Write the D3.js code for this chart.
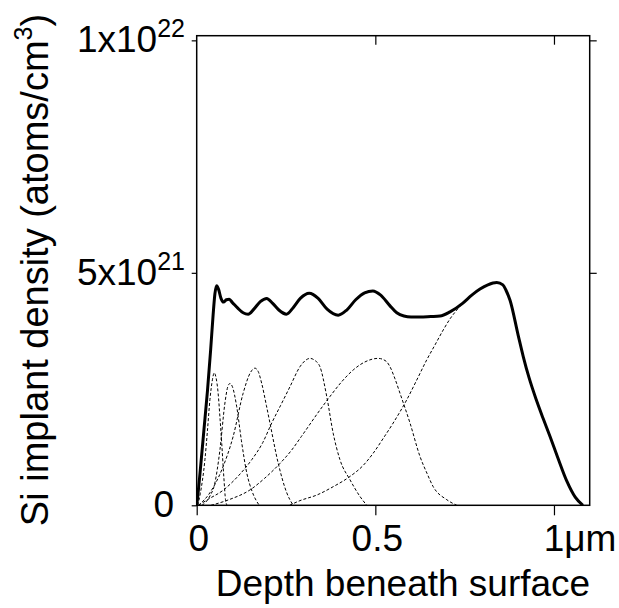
<!DOCTYPE html>
<html>
<head>
<meta charset="utf-8">
<script src="https://cdn.jsdelivr.net/npm/d3@7"></script>
<style>
  html, body { margin: 0; padding: 0; background: #fff; }
  svg { display: block; font-family: "Liberation Sans", Arial, sans-serif; }
</style>
</head>
<body>
<svg id="chart" width="619" height="608"></svg>
<script>
// depth in um, density in units of 1e21 atoms/cm^3
const xTicks = [0, 0.5, 1];
const xTickLabels = ['0', '0.5', '1\u03bcm'];
const yTicks = [0, 5, 10];
const yTickLabels = [['0', ''], ['5x10', '21'], ['1x10', '22']];

const total = [
  [0, 0], [0.003, 0.2], [0.01, 0.75], [0.02, 1.6], [0.03, 2.45], [0.039, 3.34],
  [0.046, 4.1], [0.051, 4.55], [0.056, 4.72], [0.061, 4.65], [0.068, 4.45],
  [0.075, 4.37], [0.083, 4.42], [0.091, 4.43], [0.1, 4.36], [0.115, 4.24],
  [0.13, 4.14], [0.144, 4.11], [0.16, 4.22], [0.178, 4.38], [0.196, 4.45],
  [0.212, 4.35], [0.23, 4.2], [0.251, 4.11], [0.27, 4.25], [0.29, 4.45],
  [0.315, 4.56], [0.34, 4.45], [0.365, 4.22], [0.396, 4.09], [0.42, 4.2],
  [0.445, 4.42], [0.47, 4.57], [0.493, 4.61], [0.515, 4.52], [0.54, 4.3],
  [0.56, 4.14], [0.58, 4.07], [0.6, 4.05], [0.625, 4.05], [0.655, 4.06],
  [0.681, 4.07], [0.709, 4.16], [0.745, 4.35], [0.77, 4.52], [0.793, 4.65],
  [0.815, 4.74], [0.84, 4.79], [0.857, 4.74], [0.866, 4.62], [0.877, 4.41],
  [0.9, 3.65], [0.914, 3.2], [0.93, 2.75], [0.95, 2.28], [0.97, 1.86],
  [0.989, 1.48], [1.01, 1.04], [1.036, 0.52], [1.06, 0.17], [1.081, 0]
];

const implant1 = [
  [0.003, 0], [0.01, 0.25], [0.023, 0.98], [0.03, 1.6], [0.037, 2.27], [0.044, 2.7],
  [0.049, 2.85], [0.054, 2.75], [0.06, 2.41], [0.065, 1.9], [0.07, 1.34],
  [0.076, 0.6], [0.081, 0.1], [0.085, 0]
];
const implant2 = [
  [0.015, 0], [0.037, 0.2], [0.05, 0.45], [0.065, 1.19], [0.079, 2.2], [0.087, 2.55],
  [0.093, 2.62], [0.1, 2.55], [0.112, 2.12], [0.125, 1.4], [0.14, 0.7],
  [0.155, 0.3], [0.175, 0]
];
const implant3 = [
  [0.005, 0], [0.037, 0.27], [0.07, 0.76], [0.102, 1.48], [0.13, 2.41], [0.15, 2.85],
  [0.163, 2.95], [0.172, 2.88], [0.182, 2.62], [0.195, 2.15], [0.205, 1.77],
  [0.228, 0.91], [0.252, 0.27], [0.27, 0]
];
const implant4 = [
  [0.005, 0], [0.03, 0.12], [0.075, 0.33], [0.115, 0.62], [0.154, 0.98], [0.185, 1.35],
  [0.21, 1.77], [0.235, 2.15], [0.261, 2.55], [0.289, 2.98], [0.305, 3.12],
  [0.317, 3.16], [0.33, 3.12], [0.345, 2.98], [0.364, 2.34], [0.382, 1.55],
  [0.401, 0.98], [0.429, 0.55], [0.457, 0.19], [0.476, 0]
];
const implant5 = [
  [0.04, 0], [0.09, 0.12], [0.149, 0.33], [0.19, 0.58], [0.233, 0.9], [0.265, 1.18],
  [0.293, 1.48], [0.345, 2.05], [0.373, 2.34], [0.405, 2.65], [0.438, 2.91],
  [0.47, 3.08], [0.508, 3.16], [0.53, 3.1], [0.541, 2.98], [0.555, 2.72],
  [0.569, 2.41], [0.597, 1.77], [0.625, 1.05], [0.645, 0.68], [0.662, 0.4],
  [0.7, 0.12], [0.728, 0]
];
const implant6 = [
  [0.26, 0], [0.289, 0.1], [0.336, 0.22], [0.382, 0.4], [0.429, 0.62], [0.465, 0.85],
  [0.494, 1.12], [0.523, 1.45], [0.55, 1.77], [0.588, 2.27], [0.615, 2.68],
  [0.644, 3.13], [0.667, 3.45], [0.69, 3.77], [0.71, 4.02], [0.728, 4.2], [0.745, 4.35]
];

const implants = [implant1, implant2, implant3, implant4, implant5, implant6];

(function () {
  const left = 196.7, right = 589.7, top = 35.7, bottom = 505.3;
  const fontSize = 37;
  const supSize = 25;

  const svg = d3.select('#chart');

  const x = d3.scaleLinear().domain([0, 1.1]).range([left, right]);
  const y = d3.scaleLinear().domain([0, 10.1]).range([bottom, top]);

  svg.append('defs').append('clipPath').attr('id', 'plot-clip')
    .append('rect')
    .attr('x', left).attr('y', top - 2)
    .attr('width', right - left).attr('height', bottom - top + 2);

  const line = d3.line()
    .x(d => x(d[0]))
    .y(d => y(d[1]))
    .curve(d3.curveMonotoneX);

  const plot = svg.append('g').attr('clip-path', 'url(#plot-clip)');

  // individual implants, dashed
  plot.selectAll('path.implant')
    .data(implants)
    .join('path')
    .attr('class', 'implant')
    .attr('d', line)
    .attr('fill', 'none')
    .attr('stroke', '#000')
    .attr('stroke-width', 1)
    .attr('stroke-dasharray', '3,2');

  // sum profile
  plot.append('path')
    .datum(total)
    .attr('d', line)
    .attr('fill', 'none')
    .attr('stroke', '#000')
    .attr('stroke-width', 3)
    .attr('stroke-linejoin', 'round');

  // axes (ticks only, labels drawn separately)
  const tickStyle = g => {
    g.select('.domain').remove();
    g.selectAll('line').attr('stroke', '#000').attr('stroke-width', 1.2);
  };

  svg.append('g')
    .attr('transform', `translate(0,${bottom})`)
    .call(d3.axisBottom(x).tickValues(xTicks).tickSize(10).tickFormat(''))
    .call(tickStyle);

  svg.append('g')
    .attr('transform', `translate(0,${top})`)
    .call(d3.axisBottom(x).tickValues(xTicks.slice(1)).tickSize(9).tickFormat(''))
    .call(tickStyle);

  svg.append('g')
    .attr('transform', `translate(${left},0)`)
    .call(d3.axisLeft(y).tickValues(yTicks).tickSize(5).tickFormat(''))
    .call(tickStyle);

  svg.append('g')
    .attr('transform', `translate(${right},0)`)
    .call(d3.axisLeft(y).tickValues(yTicks.slice(1)).tickSize(-7).tickFormat(''))
    .call(tickStyle);

  // frame
  svg.append('rect')
    .attr('x', left).attr('y', top)
    .attr('width', right - left).attr('height', bottom - top)
    .attr('fill', 'none')
    .attr('stroke', '#000')
    .attr('stroke-width', 1.5);

  // x tick labels
  svg.append('g').selectAll('text')
    .data(xTicks)
    .join('text')
    .attr('x', (d, i) => i === 2 ? x(d) - 10.3 : x(d) + 2)
    .attr('y', 551)
    .attr('text-anchor', (d, i) => i === 2 ? 'start' : 'middle')
    .attr('font-size', fontSize)
    .text((d, i) => xTickLabels[i]);

  // y tick labels
  const yl = svg.append('g').selectAll('text')
    .data(yTicks)
    .join('text')
    .attr('x', (d, i) => yTickLabels[i][1] ? 185 : 174)
    .attr('y', d => y(d) + 12)
    .attr('text-anchor', 'end')
    .attr('font-size', fontSize);
  yl.append('tspan').text((d, i) => yTickLabels[i][0]);
  yl.append('tspan')
    .attr('font-size', supSize)
    .attr('dy', -15)
    .text((d, i) => yTickLabels[i][1]);

  // axis titles
  svg.append('text')
    .attr('x', 403)
    .attr('y', 596)
    .attr('text-anchor', 'middle')
    .attr('font-size', fontSize)
    .text('Depth beneath surface');

  const yTitle = svg.append('text')
    .attr('transform', 'translate(48,270) rotate(-90)')
    .attr('text-anchor', 'middle')
    .attr('font-size', 38);
  yTitle.append('tspan').text('Si implant density (atoms/cm');
  yTitle.append('tspan').attr('font-size', supSize).attr('dy', -16).text('3');
  yTitle.append('tspan').attr('dy', 16).text(')');
})();
</script>
</body>
</html>
